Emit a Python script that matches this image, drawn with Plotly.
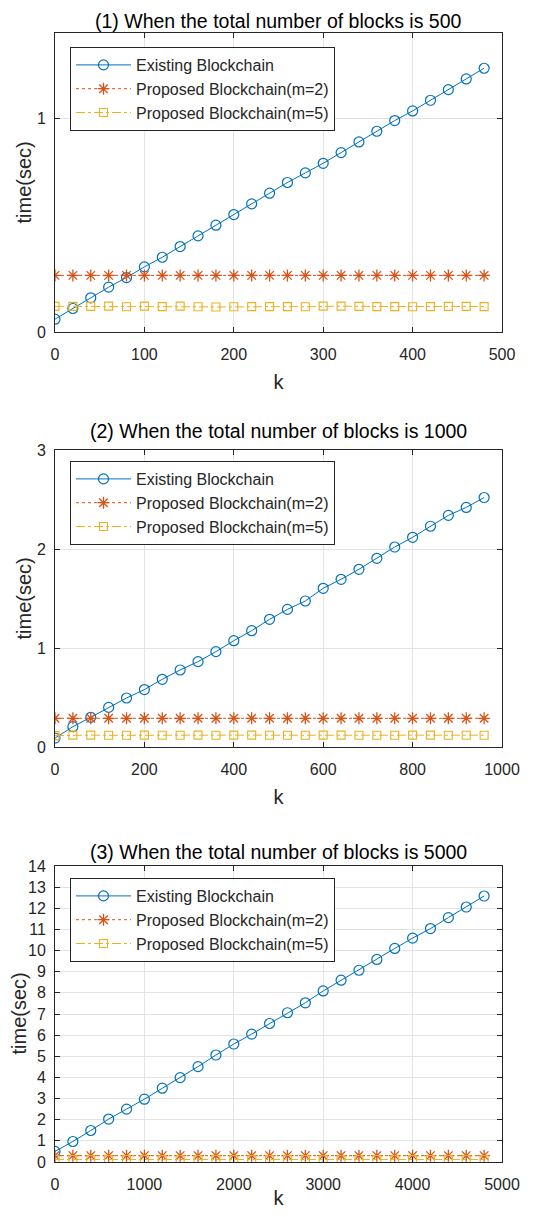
import plotly.graph_objects as go

# ---------------- data ----------------
k1 = [0, 20, 40, 60, 80, 100, 120, 140, 160, 180, 200, 220, 240, 260, 280, 300, 320, 340, 360, 380, 400, 420, 440, 460, 480]
existing1 = [0.06, 0.11, 0.16, 0.21, 0.255, 0.305, 0.35, 0.40, 0.45, 0.50, 0.55, 0.60, 0.65, 0.70, 0.745,
             0.79, 0.84, 0.89, 0.94, 0.99, 1.035, 1.085, 1.135, 1.185, 1.235]
prop2_1 = [0.265] * 25
prop5_1 = [0.12, 0.12, 0.12, 0.121, 0.118, 0.121, 0.119, 0.121, 0.118, 0.117, 0.118, 0.119, 0.119,
           0.119, 0.118, 0.121, 0.121, 0.12, 0.119, 0.119, 0.118, 0.119, 0.12, 0.12, 0.119]

k2 = [0, 40, 80, 120, 160, 200, 240, 280, 320, 360, 400, 440, 480, 520, 560, 600, 640, 680, 720, 760, 800, 840, 880, 920, 960]
existing2 = [0.09, 0.205, 0.30, 0.40, 0.495, 0.58, 0.684, 0.778, 0.862, 0.963, 1.074, 1.175, 1.29,
             1.39, 1.475, 1.603, 1.694, 1.795, 1.906, 2.02, 2.118, 2.23, 2.34, 2.42, 2.52]
prop2_2 = [0.29] * 25
prop5_2 = [0.115, 0.12, 0.12, 0.118, 0.119, 0.12, 0.119, 0.118, 0.12, 0.119, 0.12, 0.12, 0.119,
           0.118, 0.119, 0.12, 0.12, 0.119, 0.118, 0.119, 0.12, 0.12, 0.119, 0.118, 0.119]

k3 = [0, 200, 400, 600, 800, 1000, 1200, 1400, 1600, 1800, 2000, 2200, 2400, 2600, 2800, 3000, 3200, 3400,
      3600, 3800, 4000, 4200, 4400, 4600, 4800]
existing3 = [0.5, 0.97, 1.49, 2.03, 2.5, 2.97, 3.49, 3.99, 4.51, 5.06, 5.58, 6.05, 6.55, 7.06, 7.53,
             8.09, 8.6, 9.07, 9.58, 10.1, 10.59, 11.04, 11.56, 12.06, 12.58]
prop2_3 = [0.3] * 25
prop5_3 = [0.12] * 25

titles = ["(1) When the total number of blocks is 500",
          "(2) When the total number of blocks is 1000",
          "(3) When the total number of blocks is 5000"]
series_names = ["Existing Blockchain", "Proposed Blockchain(m=2)", "Proposed Blockchain(m=5)"]
x_title = "k"
y_title = "time(sec)"

xranges = [[0, 500], [0, 1000], [0, 5000]]
xdticks = [100, 200, 1000]
yranges = [[0, 1.4], [0, 3], [0, 14]]
ydticks = [1, 1, 1]

panels = [(k1, existing1, prop2_1, prop5_1),
          (k2, existing2, prop2_2, prop5_2),
          (k3, existing3, prop2_3, prop5_3)]

# ---------------- layout geometry (px, in page coordinates) ----------------
PAGE_W, PAGE_H = 537, 1217
OFF = 8  # default body margin of the html page
W, H = PAGE_W - 2 * OFF, PAGE_H - 2 * OFF
xl, xr = 55 - OFF, 502 - OFF
tops = [t - OFF for t in (33, 450, 866)]
bottoms = [b - OFF for b in (332, 747, 1162)]
title_centers = [c - OFF for c in (21, 431, 852)]
legend_tops = [t - OFF for t in (47, 461, 878)]
ytitle_x = [x - OFF for x in (23, 23, 18.5)]

C_BLUE = "#0072BD"
C_ORANGE = "#D95319"
C_YELLOW = "#EDB120"
FONT = "Liberation Sans, Arial, sans-serif"
TXT = "#262626"

fig = go.Figure()

for i, (k, ex, p2, p5) in enumerate(panels):
    sfx = "" if i == 0 else str(i + 1)
    xa, ya = "x" + sfx, "y" + sfx
    lg = "legend" + sfx
    fig.add_trace(go.Scatter(x=k, y=ex, name=series_names[0], xaxis=xa, yaxis=ya, legend=lg,
                             mode="lines+markers",
                             line=dict(color=C_BLUE, width=1),
                             marker=dict(symbol="circle-open", size=10, color=C_BLUE, line=dict(width=1.2))))
    fig.add_trace(go.Scatter(x=k, y=p2, name=series_names[1], xaxis=xa, yaxis=ya, legend=lg,
                             mode="lines+markers",
                             line=dict(color=C_ORANGE, width=1, dash="dot"),
                             marker=dict(symbol="asterisk-open", size=10, color=C_ORANGE, line=dict(width=1.3, color=C_ORANGE))))
    fig.add_trace(go.Scatter(x=k, y=p5, name=series_names[2], xaxis=xa, yaxis=ya, legend=lg,
                             mode="lines+markers",
                             line=dict(color=C_YELLOW, width=1, dash="dashdot"),
                             marker=dict(symbol="square-open", size=8, color=C_YELLOW, line=dict(width=1.1, color=C_YELLOW))))

    axcommon = dict(showline=True, linecolor="#262626", linewidth=1, mirror="ticks",
                    ticks="inside", ticklen=5, tickcolor="#262626", automargin=False,
                    showgrid=True, gridcolor="#e3e3e3", gridwidth=1, zeroline=False,
                    tickfont=dict(family=FONT, size=16, color=TXT))
    fig.layout["xaxis" + sfx] = dict(
        axcommon, domain=[xl / W, xr / W], anchor=ya, range=xranges[i], dtick=xdticks[i], tick0=0,
        ticklabelstandoff=8,
        title=dict(text=x_title, font=dict(family=FONT, size=20, color=TXT), standoff=12))
    fig.layout["yaxis" + sfx] = dict(
        axcommon, domain=[1 - bottoms[i] / H, 1 - tops[i] / H], anchor=xa, range=yranges[i],
        dtick=ydticks[i], tick0=0, ticklabelstandoff=5)
    fig.layout[lg] = dict(x=(70 - OFF) / W, y=1 - legend_tops[i] / H, xanchor="left", yanchor="top",
                          bgcolor="white", bordercolor="#262626", borderwidth=1,
                          font=dict(family=FONT, size=16, color=TXT), itemwidth=55,
                          tracegroupgap=0)
    fig.add_annotation(text=titles[i], x=(xl + xr) / 2 / W, y=1 - title_centers[i] / H,
                       xref="paper", yref="paper", xanchor="center", yanchor="middle",
                       showarrow=False, font=dict(family=FONT, size=19.5, color="#000000"))
    fig.add_annotation(text=y_title, x=ytitle_x[i] / W, y=1 - (tops[i] + bottoms[i]) / 2 / H,
                       xref="paper", yref="paper", xanchor="center", yanchor="middle",
                       textangle=-90, showarrow=False,
                       font=dict(family=FONT, size=20, color=TXT))

fig.update_layout(width=W, height=H, margin=dict(l=0, r=0, t=0, b=0, autoexpand=False),
                  paper_bgcolor="white", plot_bgcolor="white", showlegend=True)

fig.write_html("out.html")
